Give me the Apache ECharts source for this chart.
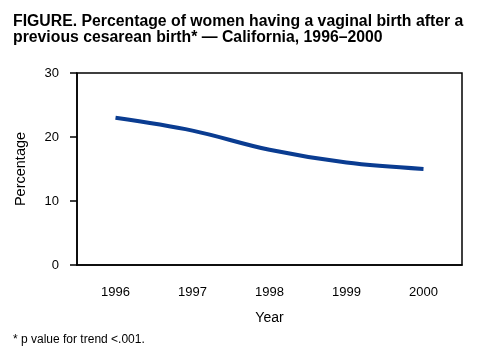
<!DOCTYPE html>
<html>
<head>
<meta charset="utf-8">
<script src="https://cdn.jsdelivr.net/npm/echarts@6/dist/echarts.min.js"></script>
<style>
html,body{margin:0;padding:0;background:#fff;}
#chart{width:489px;height:364px;}
</style>
</head>
<body>
<div id="chart"></div>
<script>
const years = ['1996', '1997', '1998', '1999', '2000'];
const percentage = [23, 21, 18, 16, 15];
const yTicks = [0, 10, 20, 30];

const FONT = 'Liberation Sans, Arial, Helvetica, sans-serif';
const chart = echarts.init(document.getElementById('chart'), null, {renderer: 'canvas'});
chart.setOption({
  animation: false,
  backgroundColor: '#ffffff',
  title: {
    text: 'FIGURE. Percentage of women having a vaginal birth after a\nprevious cesarean birth* \u2014 California, 1996\u20132000',
    left: 13,
    top: 13,
    padding: 0,
    textStyle: {fontFamily: FONT, fontSize: 15.8, fontWeight: 'bold', color: '#000', lineHeight: 16.5}
  },
  grid: {left: 77, right: 27, top: 73, bottom: 99, show: true, borderColor: '#000', borderWidth: 1.5, containLabel: false},
  xAxis: {
    type: 'category',
    data: years,
    boundaryGap: true,
    name: 'Year',
    nameLocation: 'middle',
    nameGap: 46,
    nameTextStyle: {fontFamily: FONT, fontSize: 14, color: '#000'},
    axisLine: {lineStyle: {color: '#000', width: 1.5}},
    axisTick: {alignWithLabel: true, length: 6, lineStyle: {color: '#000', width: 1.5}},
    axisLabel: {fontFamily: FONT, fontSize: 13, color: '#000', margin: 21},
    splitLine: {show: false}
  },
  yAxis: {
    type: 'value',
    min: yTicks[0],
    max: yTicks[yTicks.length - 1],
    interval: 10,
    name: 'Percentage',
    nameLocation: 'middle',
    nameGap: 49,
    nameTextStyle: {fontFamily: FONT, fontSize: 14.5, color: '#000'},
    axisLine: {show: true, lineStyle: {color: '#000', width: 1.5}},
    axisTick: {show: true, length: 7, lineStyle: {color: '#000', width: 1.5}},
    axisLabel: {fontFamily: FONT, fontSize: 13, color: '#000', margin: 18},
    splitLine: {show: false}
  },
  graphic: [{
    type: 'text',
    left: 13,
    top: 334,
    style: {text: '* p value for trend <.001.', font: '12px ' + FONT, fill: '#000'}
  }],
  series: [{
    type: 'line',
    data: percentage,
    smooth: 0.35,
    symbol: 'none',
    lineStyle: {color: '#0a3c91', width: 4}
  }]
});
</script>
</body>
</html>
